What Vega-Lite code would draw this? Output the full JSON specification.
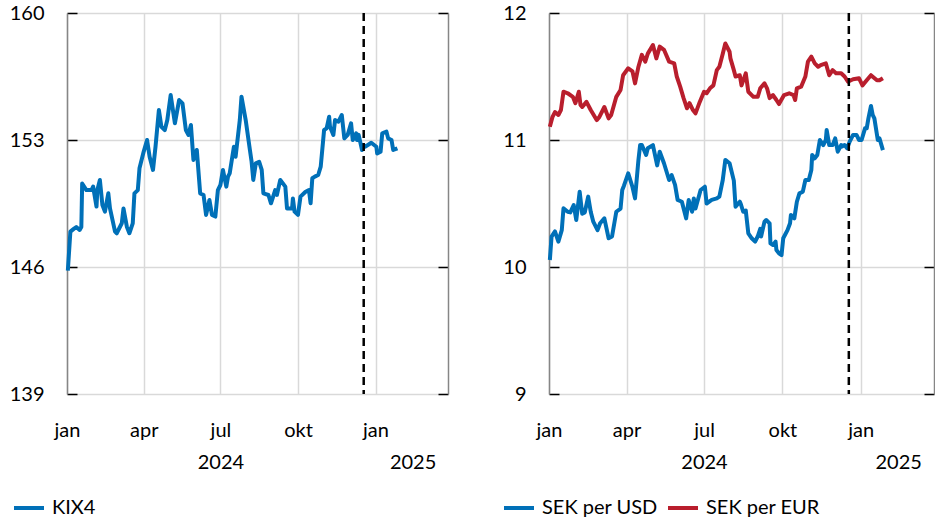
{
  "$schema": "https://vega.github.io/schema/vega-lite/v6.json",
  "background": "white",
  "padding": {"left": 9, "top": 3, "right": 0, "bottom": 0},
  "spacing": 101,
  "bounds": "flush",
  "resolve": {"scale": {"color": "independent"}, "legend": {"color": "independent"}},
  "config": {
    "font": "Lato",
    "view": {"stroke": null},
    "axis": {
      "labelFont": "Lato",
      "labelFontSize": 20,
      "labelColor": "#000000",
      "gridColor": "#d9d9d9",
      "gridWidth": 1.5,
      "domainColor": "#868686",
      "domainWidth": 1.5,
      "tickColor": "#000000",
      "tickWidth": 1.5,
      "title": null
    },
    "legend": {
      "orient": "none",
      "direction": "horizontal",
      "title": null,
      "symbolType": "stroke",
      "symbolStrokeWidth": 4,
      "symbolSize": 900,
      "labelFont": "Lato",
      "labelFontSize": 20,
      "labelColor": "#000000",
      "labelOffset": 6,
      "columnPadding": 2
    }
  },
  "datasets": {
    "marker": [{"date": "2024-12-18"}],
    "kix": [
      {"date": "2024-01-02", "value": 145.8},
      {"date": "2024-01-05", "value": 147.95},
      {"date": "2024-01-09", "value": 148.1},
      {"date": "2024-01-12", "value": 148.2},
      {"date": "2024-01-16", "value": 148.04},
      {"date": "2024-01-18", "value": 148.2},
      {"date": "2024-01-19", "value": 150.6},
      {"date": "2024-01-24", "value": 150.24},
      {"date": "2024-01-30", "value": 150.24},
      {"date": "2024-02-01", "value": 150.43},
      {"date": "2024-02-05", "value": 149.33},
      {"date": "2024-02-06", "value": 150.24},
      {"date": "2024-02-09", "value": 150.8},
      {"date": "2024-02-12", "value": 149.42},
      {"date": "2024-02-15", "value": 149.05},
      {"date": "2024-02-19", "value": 150.06},
      {"date": "2024-02-21", "value": 149.23},
      {"date": "2024-02-27", "value": 147.95},
      {"date": "2024-02-29", "value": 147.86},
      {"date": "2024-03-06", "value": 148.41},
      {"date": "2024-03-08", "value": 149.23},
      {"date": "2024-03-12", "value": 148.22},
      {"date": "2024-03-15", "value": 147.86},
      {"date": "2024-03-19", "value": 148.41},
      {"date": "2024-03-21", "value": 150.06},
      {"date": "2024-03-25", "value": 150.24},
      {"date": "2024-03-27", "value": 151.44},
      {"date": "2024-04-01", "value": 152.36},
      {"date": "2024-04-05", "value": 153.0},
      {"date": "2024-04-08", "value": 152.08},
      {"date": "2024-04-12", "value": 151.35},
      {"date": "2024-04-15", "value": 152.63},
      {"date": "2024-04-19", "value": 154.65},
      {"date": "2024-04-22", "value": 153.73},
      {"date": "2024-04-26", "value": 153.55},
      {"date": "2024-04-29", "value": 154.1},
      {"date": "2024-05-03", "value": 155.48},
      {"date": "2024-05-08", "value": 153.92},
      {"date": "2024-05-13", "value": 155.2},
      {"date": "2024-05-15", "value": 155.11},
      {"date": "2024-05-17", "value": 155.02},
      {"date": "2024-05-21", "value": 153.55},
      {"date": "2024-05-24", "value": 153.28},
      {"date": "2024-05-27", "value": 153.83},
      {"date": "2024-05-30", "value": 151.9},
      {"date": "2024-06-03", "value": 152.45},
      {"date": "2024-06-07", "value": 150.06},
      {"date": "2024-06-11", "value": 149.97},
      {"date": "2024-06-14", "value": 148.87},
      {"date": "2024-06-18", "value": 149.69},
      {"date": "2024-06-21", "value": 148.87},
      {"date": "2024-06-25", "value": 148.78},
      {"date": "2024-06-28", "value": 150.24},
      {"date": "2024-07-01", "value": 150.52},
      {"date": "2024-07-04", "value": 151.35},
      {"date": "2024-07-08", "value": 150.43},
      {"date": "2024-07-10", "value": 150.98},
      {"date": "2024-07-12", "value": 151.16},
      {"date": "2024-07-17", "value": 152.63},
      {"date": "2024-07-19", "value": 152.08},
      {"date": "2024-07-24", "value": 154.1},
      {"date": "2024-07-26", "value": 155.39},
      {"date": "2024-07-31", "value": 154.1},
      {"date": "2024-08-05", "value": 152.45},
      {"date": "2024-08-07", "value": 151.8},
      {"date": "2024-08-09", "value": 150.8},
      {"date": "2024-08-12", "value": 151.71},
      {"date": "2024-08-16", "value": 151.8},
      {"date": "2024-08-19", "value": 151.35},
      {"date": "2024-08-21", "value": 150.06},
      {"date": "2024-08-27", "value": 149.97},
      {"date": "2024-08-30", "value": 149.51},
      {"date": "2024-09-04", "value": 150.24},
      {"date": "2024-09-06", "value": 149.97},
      {"date": "2024-09-10", "value": 150.8},
      {"date": "2024-09-16", "value": 150.43},
      {"date": "2024-09-18", "value": 149.23},
      {"date": "2024-09-24", "value": 149.23},
      {"date": "2024-09-25", "value": 149.78},
      {"date": "2024-09-27", "value": 149.05},
      {"date": "2024-10-01", "value": 148.87},
      {"date": "2024-10-04", "value": 149.88},
      {"date": "2024-10-10", "value": 150.15},
      {"date": "2024-10-14", "value": 150.24},
      {"date": "2024-10-16", "value": 149.51},
      {"date": "2024-10-18", "value": 150.89},
      {"date": "2024-10-21", "value": 150.98},
      {"date": "2024-10-25", "value": 151.07},
      {"date": "2024-10-28", "value": 151.53},
      {"date": "2024-11-01", "value": 153.55},
      {"date": "2024-11-04", "value": 153.64},
      {"date": "2024-11-07", "value": 154.28},
      {"date": "2024-11-08", "value": 153.73},
      {"date": "2024-11-12", "value": 153.28},
      {"date": "2024-11-14", "value": 154.1},
      {"date": "2024-11-18", "value": 154.01},
      {"date": "2024-11-22", "value": 154.38},
      {"date": "2024-11-25", "value": 153.09},
      {"date": "2024-11-29", "value": 153.28},
      {"date": "2024-12-03", "value": 153.92},
      {"date": "2024-12-05", "value": 153.0},
      {"date": "2024-12-09", "value": 153.37},
      {"date": "2024-12-10", "value": 153.0},
      {"date": "2024-12-12", "value": 153.28},
      {"date": "2024-12-16", "value": 152.45},
      {"date": "2024-12-18", "value": 152.72},
      {"date": "2024-12-20", "value": 152.63},
      {"date": "2024-12-27", "value": 152.85},
      {"date": "2025-01-02", "value": 152.63},
      {"date": "2025-01-03", "value": 152.26},
      {"date": "2025-01-07", "value": 152.35},
      {"date": "2025-01-09", "value": 153.37},
      {"date": "2025-01-14", "value": 153.46},
      {"date": "2025-01-16", "value": 153.09},
      {"date": "2025-01-20", "value": 153.0},
      {"date": "2025-01-22", "value": 152.45},
      {"date": "2025-01-27", "value": 152.54}
    ],
    "fx": [
      {"date": "2024-01-02", "series": "SEK per USD", "value": 10.055},
      {"date": "2024-01-04", "series": "SEK per USD", "value": 10.24},
      {"date": "2024-01-08", "series": "SEK per USD", "value": 10.28},
      {"date": "2024-01-12", "series": "SEK per USD", "value": 10.2},
      {"date": "2024-01-16", "series": "SEK per USD", "value": 10.29},
      {"date": "2024-01-18", "series": "SEK per USD", "value": 10.462},
      {"date": "2024-01-23", "series": "SEK per USD", "value": 10.435},
      {"date": "2024-01-26", "series": "SEK per USD", "value": 10.43},
      {"date": "2024-01-30", "series": "SEK per USD", "value": 10.488},
      {"date": "2024-02-02", "series": "SEK per USD", "value": 10.37},
      {"date": "2024-02-06", "series": "SEK per USD", "value": 10.593},
      {"date": "2024-02-09", "series": "SEK per USD", "value": 10.42},
      {"date": "2024-02-12", "series": "SEK per USD", "value": 10.43},
      {"date": "2024-02-16", "series": "SEK per USD", "value": 10.554},
      {"date": "2024-02-19", "series": "SEK per USD", "value": 10.435},
      {"date": "2024-02-22", "series": "SEK per USD", "value": 10.357},
      {"date": "2024-02-27", "series": "SEK per USD", "value": 10.29},
      {"date": "2024-03-01", "series": "SEK per USD", "value": 10.344},
      {"date": "2024-03-06", "series": "SEK per USD", "value": 10.383},
      {"date": "2024-03-11", "series": "SEK per USD", "value": 10.226},
      {"date": "2024-03-15", "series": "SEK per USD", "value": 10.24},
      {"date": "2024-03-20", "series": "SEK per USD", "value": 10.435},
      {"date": "2024-03-25", "series": "SEK per USD", "value": 10.46},
      {"date": "2024-03-27", "series": "SEK per USD", "value": 10.606},
      {"date": "2024-03-29", "series": "SEK per USD", "value": 10.64},
      {"date": "2024-04-03", "series": "SEK per USD", "value": 10.738},
      {"date": "2024-04-08", "series": "SEK per USD", "value": 10.63},
      {"date": "2024-04-11", "series": "SEK per USD", "value": 10.54},
      {"date": "2024-04-15", "series": "SEK per USD", "value": 10.843},
      {"date": "2024-04-17", "series": "SEK per USD", "value": 10.96},
      {"date": "2024-04-19", "series": "SEK per USD", "value": 10.96},
      {"date": "2024-04-24", "series": "SEK per USD", "value": 10.882},
      {"date": "2024-04-26", "series": "SEK per USD", "value": 10.935},
      {"date": "2024-05-02", "series": "SEK per USD", "value": 10.96},
      {"date": "2024-05-07", "series": "SEK per USD", "value": 10.8},
      {"date": "2024-05-10", "series": "SEK per USD", "value": 10.908},
      {"date": "2024-05-15", "series": "SEK per USD", "value": 10.817},
      {"date": "2024-05-21", "series": "SEK per USD", "value": 10.685},
      {"date": "2024-05-24", "series": "SEK per USD", "value": 10.724},
      {"date": "2024-05-28", "series": "SEK per USD", "value": 10.646},
      {"date": "2024-05-31", "series": "SEK per USD", "value": 10.528},
      {"date": "2024-06-05", "series": "SEK per USD", "value": 10.514},
      {"date": "2024-06-10", "series": "SEK per USD", "value": 10.383},
      {"date": "2024-06-13", "series": "SEK per USD", "value": 10.528},
      {"date": "2024-06-17", "series": "SEK per USD", "value": 10.435},
      {"date": "2024-06-19", "series": "SEK per USD", "value": 10.54},
      {"date": "2024-06-21", "series": "SEK per USD", "value": 10.46},
      {"date": "2024-06-27", "series": "SEK per USD", "value": 10.606},
      {"date": "2024-07-02", "series": "SEK per USD", "value": 10.632},
      {"date": "2024-07-04", "series": "SEK per USD", "value": 10.5},
      {"date": "2024-07-10", "series": "SEK per USD", "value": 10.528},
      {"date": "2024-07-16", "series": "SEK per USD", "value": 10.54},
      {"date": "2024-07-19", "series": "SEK per USD", "value": 10.554},
      {"date": "2024-07-23", "series": "SEK per USD", "value": 10.685},
      {"date": "2024-07-26", "series": "SEK per USD", "value": 10.843},
      {"date": "2024-07-31", "series": "SEK per USD", "value": 10.817},
      {"date": "2024-08-05", "series": "SEK per USD", "value": 10.68},
      {"date": "2024-08-07", "series": "SEK per USD", "value": 10.475},
      {"date": "2024-08-12", "series": "SEK per USD", "value": 10.514},
      {"date": "2024-08-13", "series": "SEK per USD", "value": 10.5},
      {"date": "2024-08-16", "series": "SEK per USD", "value": 10.435},
      {"date": "2024-08-19", "series": "SEK per USD", "value": 10.445},
      {"date": "2024-08-22", "series": "SEK per USD", "value": 10.265},
      {"date": "2024-08-26", "series": "SEK per USD", "value": 10.226},
      {"date": "2024-08-30", "series": "SEK per USD", "value": 10.2},
      {"date": "2024-09-02", "series": "SEK per USD", "value": 10.24},
      {"date": "2024-09-05", "series": "SEK per USD", "value": 10.3},
      {"date": "2024-09-06", "series": "SEK per USD", "value": 10.24},
      {"date": "2024-09-10", "series": "SEK per USD", "value": 10.357},
      {"date": "2024-09-12", "series": "SEK per USD", "value": 10.37},
      {"date": "2024-09-16", "series": "SEK per USD", "value": 10.344},
      {"date": "2024-09-17", "series": "SEK per USD", "value": 10.186},
      {"date": "2024-09-20", "series": "SEK per USD", "value": 10.173},
      {"date": "2024-09-23", "series": "SEK per USD", "value": 10.2},
      {"date": "2024-09-24", "series": "SEK per USD", "value": 10.134},
      {"date": "2024-09-27", "series": "SEK per USD", "value": 10.108},
      {"date": "2024-09-30", "series": "SEK per USD", "value": 10.094},
      {"date": "2024-10-02", "series": "SEK per USD", "value": 10.226},
      {"date": "2024-10-07", "series": "SEK per USD", "value": 10.29},
      {"date": "2024-10-10", "series": "SEK per USD", "value": 10.344},
      {"date": "2024-10-11", "series": "SEK per USD", "value": 10.41},
      {"date": "2024-10-15", "series": "SEK per USD", "value": 10.383},
      {"date": "2024-10-18", "series": "SEK per USD", "value": 10.514},
      {"date": "2024-10-21", "series": "SEK per USD", "value": 10.58},
      {"date": "2024-10-25", "series": "SEK per USD", "value": 10.593},
      {"date": "2024-10-28", "series": "SEK per USD", "value": 10.685},
      {"date": "2024-11-01", "series": "SEK per USD", "value": 10.685},
      {"date": "2024-11-04", "series": "SEK per USD", "value": 10.764},
      {"date": "2024-11-05", "series": "SEK per USD", "value": 10.882},
      {"date": "2024-11-08", "series": "SEK per USD", "value": 10.856},
      {"date": "2024-11-11", "series": "SEK per USD", "value": 10.882},
      {"date": "2024-11-14", "series": "SEK per USD", "value": 11.0},
      {"date": "2024-11-18", "series": "SEK per USD", "value": 10.96},
      {"date": "2024-11-21", "series": "SEK per USD", "value": 11.0},
      {"date": "2024-11-22", "series": "SEK per USD", "value": 11.079},
      {"date": "2024-11-25", "series": "SEK per USD", "value": 10.96},
      {"date": "2024-11-29", "series": "SEK per USD", "value": 10.96},
      {"date": "2024-12-02", "series": "SEK per USD", "value": 11.013},
      {"date": "2024-12-05", "series": "SEK per USD", "value": 10.908},
      {"date": "2024-12-09", "series": "SEK per USD", "value": 10.96},
      {"date": "2024-12-10", "series": "SEK per USD", "value": 10.948},
      {"date": "2024-12-13", "series": "SEK per USD", "value": 10.96},
      {"date": "2024-12-16", "series": "SEK per USD", "value": 10.935},
      {"date": "2024-12-19", "series": "SEK per USD", "value": 10.987},
      {"date": "2024-12-23", "series": "SEK per USD", "value": 11.04},
      {"date": "2024-12-27", "series": "SEK per USD", "value": 11.04},
      {"date": "2024-12-30", "series": "SEK per USD", "value": 11.0},
      {"date": "2025-01-02", "series": "SEK per USD", "value": 11.0},
      {"date": "2025-01-06", "series": "SEK per USD", "value": 11.092},
      {"date": "2025-01-08", "series": "SEK per USD", "value": 11.092},
      {"date": "2025-01-10", "series": "SEK per USD", "value": 11.17},
      {"date": "2025-01-13", "series": "SEK per USD", "value": 11.268},
      {"date": "2025-01-15", "series": "SEK per USD", "value": 11.197},
      {"date": "2025-01-17", "series": "SEK per USD", "value": 11.17},
      {"date": "2025-01-21", "series": "SEK per USD", "value": 11.0},
      {"date": "2025-01-23", "series": "SEK per USD", "value": 11.013},
      {"date": "2025-01-27", "series": "SEK per USD", "value": 10.92},
      {"date": "2024-01-02", "series": "SEK per EUR", "value": 11.105},
      {"date": "2024-01-05", "series": "SEK per EUR", "value": 11.18},
      {"date": "2024-01-08", "series": "SEK per EUR", "value": 11.22},
      {"date": "2024-01-12", "series": "SEK per EUR", "value": 11.197},
      {"date": "2024-01-15", "series": "SEK per EUR", "value": 11.236},
      {"date": "2024-01-18", "series": "SEK per EUR", "value": 11.38},
      {"date": "2024-01-23", "series": "SEK per EUR", "value": 11.368},
      {"date": "2024-01-29", "series": "SEK per EUR", "value": 11.34},
      {"date": "2024-02-01", "series": "SEK per EUR", "value": 11.29},
      {"date": "2024-02-05", "series": "SEK per EUR", "value": 11.38},
      {"date": "2024-02-07", "series": "SEK per EUR", "value": 11.276},
      {"date": "2024-02-09", "series": "SEK per EUR", "value": 11.26},
      {"date": "2024-02-14", "series": "SEK per EUR", "value": 11.3},
      {"date": "2024-02-19", "series": "SEK per EUR", "value": 11.236},
      {"date": "2024-02-26", "series": "SEK per EUR", "value": 11.157},
      {"date": "2024-02-29", "series": "SEK per EUR", "value": 11.18},
      {"date": "2024-03-06", "series": "SEK per EUR", "value": 11.26},
      {"date": "2024-03-11", "series": "SEK per EUR", "value": 11.17},
      {"date": "2024-03-14", "series": "SEK per EUR", "value": 11.197},
      {"date": "2024-03-20", "series": "SEK per EUR", "value": 11.34},
      {"date": "2024-03-25", "series": "SEK per EUR", "value": 11.394},
      {"date": "2024-03-28", "series": "SEK per EUR", "value": 11.51},
      {"date": "2024-04-03", "series": "SEK per EUR", "value": 11.565},
      {"date": "2024-04-08", "series": "SEK per EUR", "value": 11.54},
      {"date": "2024-04-11", "series": "SEK per EUR", "value": 11.446},
      {"date": "2024-04-15", "series": "SEK per EUR", "value": 11.577},
      {"date": "2024-04-19", "series": "SEK per EUR", "value": 11.67},
      {"date": "2024-04-23", "series": "SEK per EUR", "value": 11.617},
      {"date": "2024-04-26", "series": "SEK per EUR", "value": 11.68},
      {"date": "2024-05-02", "series": "SEK per EUR", "value": 11.748},
      {"date": "2024-05-06", "series": "SEK per EUR", "value": 11.643},
      {"date": "2024-05-10", "series": "SEK per EUR", "value": 11.735},
      {"date": "2024-05-15", "series": "SEK per EUR", "value": 11.71},
      {"date": "2024-05-21", "series": "SEK per EUR", "value": 11.617},
      {"date": "2024-05-27", "series": "SEK per EUR", "value": 11.604},
      {"date": "2024-05-30", "series": "SEK per EUR", "value": 11.5},
      {"date": "2024-06-03", "series": "SEK per EUR", "value": 11.42},
      {"date": "2024-06-07", "series": "SEK per EUR", "value": 11.33},
      {"date": "2024-06-11", "series": "SEK per EUR", "value": 11.25},
      {"date": "2024-06-14", "series": "SEK per EUR", "value": 11.29},
      {"date": "2024-06-18", "series": "SEK per EUR", "value": 11.236},
      {"date": "2024-06-21", "series": "SEK per EUR", "value": 11.21},
      {"date": "2024-06-26", "series": "SEK per EUR", "value": 11.3},
      {"date": "2024-07-01", "series": "SEK per EUR", "value": 11.38},
      {"date": "2024-07-04", "series": "SEK per EUR", "value": 11.368},
      {"date": "2024-07-08", "series": "SEK per EUR", "value": 11.407},
      {"date": "2024-07-12", "series": "SEK per EUR", "value": 11.43},
      {"date": "2024-07-16", "series": "SEK per EUR", "value": 11.55},
      {"date": "2024-07-19", "series": "SEK per EUR", "value": 11.577},
      {"date": "2024-07-23", "series": "SEK per EUR", "value": 11.68},
      {"date": "2024-07-26", "series": "SEK per EUR", "value": 11.76},
      {"date": "2024-07-31", "series": "SEK per EUR", "value": 11.695},
      {"date": "2024-08-01", "series": "SEK per EUR", "value": 11.643},
      {"date": "2024-08-05", "series": "SEK per EUR", "value": 11.55},
      {"date": "2024-08-07", "series": "SEK per EUR", "value": 11.5},
      {"date": "2024-08-12", "series": "SEK per EUR", "value": 11.51},
      {"date": "2024-08-14", "series": "SEK per EUR", "value": 11.43},
      {"date": "2024-08-19", "series": "SEK per EUR", "value": 11.525},
      {"date": "2024-08-22", "series": "SEK per EUR", "value": 11.38},
      {"date": "2024-08-28", "series": "SEK per EUR", "value": 11.34},
      {"date": "2024-09-02", "series": "SEK per EUR", "value": 11.34},
      {"date": "2024-09-05", "series": "SEK per EUR", "value": 11.407},
      {"date": "2024-09-10", "series": "SEK per EUR", "value": 11.446},
      {"date": "2024-09-13", "series": "SEK per EUR", "value": 11.407},
      {"date": "2024-09-16", "series": "SEK per EUR", "value": 11.33},
      {"date": "2024-09-20", "series": "SEK per EUR", "value": 11.354},
      {"date": "2024-09-24", "series": "SEK per EUR", "value": 11.315},
      {"date": "2024-09-27", "series": "SEK per EUR", "value": 11.283},
      {"date": "2024-10-03", "series": "SEK per EUR", "value": 11.354},
      {"date": "2024-10-09", "series": "SEK per EUR", "value": 11.368},
      {"date": "2024-10-14", "series": "SEK per EUR", "value": 11.354},
      {"date": "2024-10-16", "series": "SEK per EUR", "value": 11.315},
      {"date": "2024-10-18", "series": "SEK per EUR", "value": 11.407},
      {"date": "2024-10-23", "series": "SEK per EUR", "value": 11.42},
      {"date": "2024-10-28", "series": "SEK per EUR", "value": 11.5},
      {"date": "2024-10-31", "series": "SEK per EUR", "value": 11.617},
      {"date": "2024-11-04", "series": "SEK per EUR", "value": 11.656},
      {"date": "2024-11-08", "series": "SEK per EUR", "value": 11.604},
      {"date": "2024-11-12", "series": "SEK per EUR", "value": 11.577},
      {"date": "2024-11-15", "series": "SEK per EUR", "value": 11.59},
      {"date": "2024-11-21", "series": "SEK per EUR", "value": 11.604},
      {"date": "2024-11-25", "series": "SEK per EUR", "value": 11.51},
      {"date": "2024-11-29", "series": "SEK per EUR", "value": 11.55},
      {"date": "2024-12-03", "series": "SEK per EUR", "value": 11.525},
      {"date": "2024-12-09", "series": "SEK per EUR", "value": 11.525},
      {"date": "2024-12-13", "series": "SEK per EUR", "value": 11.5},
      {"date": "2024-12-17", "series": "SEK per EUR", "value": 11.46},
      {"date": "2024-12-23", "series": "SEK per EUR", "value": 11.478},
      {"date": "2024-12-30", "series": "SEK per EUR", "value": 11.486},
      {"date": "2025-01-03", "series": "SEK per EUR", "value": 11.43},
      {"date": "2025-01-08", "series": "SEK per EUR", "value": 11.47},
      {"date": "2025-01-13", "series": "SEK per EUR", "value": 11.51},
      {"date": "2025-01-20", "series": "SEK per EUR", "value": 11.47},
      {"date": "2025-01-23", "series": "SEK per EUR", "value": 11.47},
      {"date": "2025-01-27", "series": "SEK per EUR", "value": 11.486}
    ]
  },
  "hconcat": [
    {
      "width": 381,
      "height": 381,
      "layer": [
        {
          "data": {"name": "kix"},
          "mark": {"type": "line", "strokeWidth": 4, "strokeJoin": "round"},
          "encoding": {
            "x": {
              "field": "date", "type": "temporal",
              "scale": {"type": "utc", "domain": [{"year": 2024, "month": 1, "date": 1, "utc": true}, {"year": 2025, "month": 3, "date": 28, "utc": true}]},
              "axis": {
                "orient": "bottom",
                "values": [{"year": 2024, "month": 1, "date": 1, "utc": true}, {"year": 2024, "month": 4, "date": 1, "utc": true}, {"year": 2024, "month": 7, "date": 1, "utc": true}, {"year": 2024, "month": 10, "date": 1, "utc": true}, {"year": 2025, "month": 1, "date": 1, "utc": true}],
                "labelExpr": "['jan','feb','mar','apr','maj','jun','jul','aug','sep','okt','nov','dec'][utcmonth(datum.value)]",
                "grid": true, "ticks": false, "domain": false, "labelPadding": 26, "labelFlush": false
              }
            },
            "y": {
              "field": "value", "type": "quantitative",
              "scale": {"domain": [139, 160], "nice": false, "zero": false},
              "axis": {"orient": "left", "values": [139, 146, 153, 160], "grid": true, "tickSize": -10, "labelPadding": 33}
            },
            "color": {
              "datum": "KIX4",
              "scale": {"domain": ["KIX4"], "range": ["#0070B8"]},
              "legend": {"legendX": -55, "legendY": 478}
            }
          }
        },
        {
          "data": {"name": "kix"},
          "mark": {"type": "line", "opacity": 0},
          "encoding": {
            "x": {
              "field": "date", "type": "temporal",
              "axis": {
                "orient": "bottom",
                "values": [{"year": 2024, "month": 7, "date": 1, "utc": true}, {"year": 2025, "month": 2, "date": 14, "utc": true}],
                "labelExpr": "utcFormat(datum.value, '%Y')",
                "grid": false, "ticks": false, "domain": false, "labelPadding": 58, "labelFlush": false
              }
            },
            "y": {
              "field": "value", "type": "quantitative",
              "axis": {"orient": "right", "values": [139, 146, 153, 160], "grid": false, "labels": false, "tickSize": -10}
            }
          }
        },
        {
          "data": {"name": "marker"},
          "mark": {"type": "rule", "strokeDash": [8, 5], "strokeWidth": 2.5, "color": "#000000"},
          "encoding": {
            "x": {"field": "date", "type": "temporal", "axis": null}
          }
        }
      ],
      "resolve": {"axis": {"x": "independent", "y": "independent"}}
    },
    {
      "width": 385,
      "height": 381,
      "layer": [
        {
          "data": {"name": "fx"},
          "mark": {"type": "line", "strokeWidth": 4, "strokeJoin": "round"},
          "encoding": {
            "x": {
              "field": "date", "type": "temporal",
              "scale": {"type": "utc", "domain": [{"year": 2024, "month": 1, "date": 1, "utc": true}, {"year": 2025, "month": 3, "date": 28, "utc": true}]},
              "axis": {
                "orient": "bottom",
                "values": [{"year": 2024, "month": 1, "date": 1, "utc": true}, {"year": 2024, "month": 4, "date": 1, "utc": true}, {"year": 2024, "month": 7, "date": 1, "utc": true}, {"year": 2024, "month": 10, "date": 1, "utc": true}, {"year": 2025, "month": 1, "date": 1, "utc": true}],
                "labelExpr": "['jan','feb','mar','apr','maj','jun','jul','aug','sep','okt','nov','dec'][utcmonth(datum.value)]",
                "grid": true, "ticks": false, "domain": false, "labelPadding": 26, "labelFlush": false
              }
            },
            "y": {
              "field": "value", "type": "quantitative",
              "scale": {"domain": [9, 12], "nice": false, "zero": false},
              "axis": {"orient": "left", "values": [9, 10, 11, 12], "grid": true, "tickSize": -10, "labelPadding": 33}
            },
            "color": {
              "field": "series", "type": "nominal",
              "scale": {"domain": ["SEK per USD", "SEK per EUR"], "range": ["#0070B8", "#B91E2D"]},
              "legend": {"legendX": -47, "legendY": 478}
            }
          }
        },
        {
          "data": {"name": "fx"},
          "mark": {"type": "line", "opacity": 0},
          "encoding": {
            "detail": {"field": "series"},
            "x": {
              "field": "date", "type": "temporal",
              "axis": {
                "orient": "bottom",
                "values": [{"year": 2024, "month": 7, "date": 1, "utc": true}, {"year": 2025, "month": 2, "date": 14, "utc": true}],
                "labelExpr": "utcFormat(datum.value, '%Y')",
                "grid": false, "ticks": false, "domain": false, "labelPadding": 58, "labelFlush": false
              }
            },
            "y": {
              "field": "value", "type": "quantitative",
              "axis": {"orient": "right", "values": [9, 10, 11, 12], "grid": false, "labels": false, "tickSize": -10}
            }
          }
        },
        {
          "data": {"name": "marker"},
          "mark": {"type": "rule", "strokeDash": [8, 5], "strokeWidth": 2.5, "color": "#000000"},
          "encoding": {
            "x": {"field": "date", "type": "temporal", "axis": null}
          }
        }
      ],
      "resolve": {"axis": {"x": "independent", "y": "independent"}}
    }
  ]
}
